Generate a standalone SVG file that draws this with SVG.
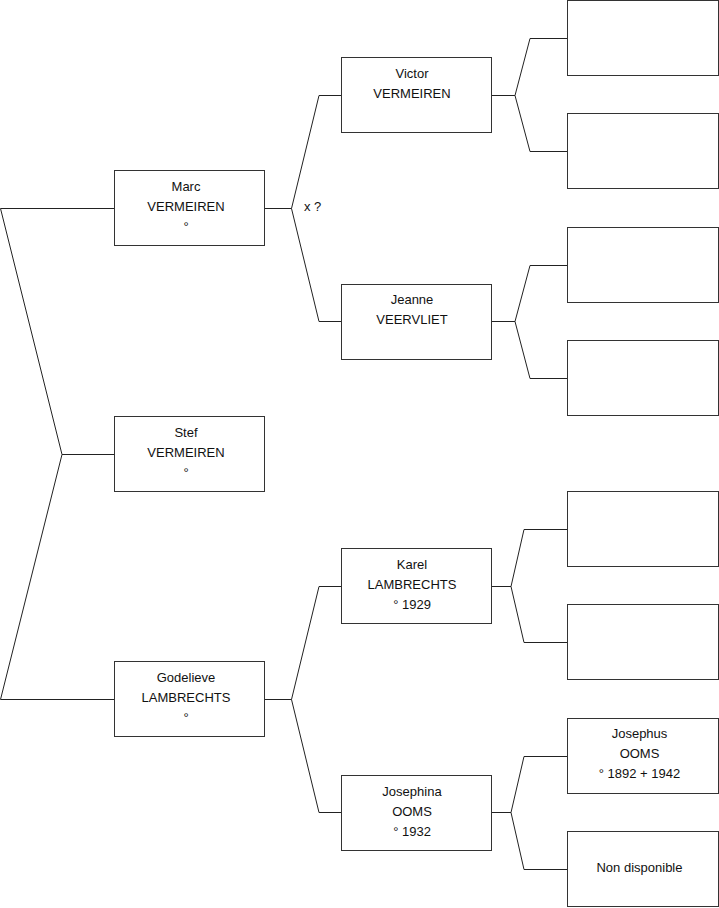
<svg xmlns="http://www.w3.org/2000/svg" width="719" height="908" viewBox="0 0 719 908">
<style>
.box{fill:#fff;stroke:#333;stroke-width:1}
.t{font-family:"Liberation Sans",Arial,sans-serif;font-size:13px;fill:#111;text-anchor:middle}
.c{fill:none;stroke:#222;stroke-width:1}
</style>
<rect width="719" height="908" fill="#fff"/>
<g id="connectors">
<polyline class="c" points="114,208.5 0.5,208.5 62,454.5 0.5,699.5 114,699.5"/>
<line class="c" x1="62" y1="454.5" x2="114" y2="454.5"/>
<polyline class="c" points="265,208.5 291.5,208.5"/>
<polyline class="c" points="341,95.5 319,95.5 291.5,208.5 319,321.5 341,321.5"/>
<polyline class="c" points="265,699.5 291.5,699.5"/>
<polyline class="c" points="341,586.5 319,586.5 291.5,699.5 319,812.5 341,812.5"/>
<polyline class="c" points="491,95.5 515,95.5"/>
<polyline class="c" points="567,38.5 530,38.5 515,95.5 530,151.5 567,151.5"/>
<polyline class="c" points="491,321.5 515,321.5"/>
<polyline class="c" points="567,265.5 530,265.5 515,321.5 530,378.5 567,378.5"/>
<polyline class="c" points="491,586.5 511,586.5"/>
<polyline class="c" points="567,529.5 524,529.5 511,586.5 524,642.5 567,642.5"/>
<polyline class="c" points="491,812.5 511,812.5"/>
<polyline class="c" points="567,756.5 524,756.5 511,812.5 524,869.5 567,869.5"/>
<text class="t" x="304" y="211" style="text-anchor:start">x ?</text>
</g>
<g id="marc"><rect class="box" x="114.5" y="170.5" width="150" height="75"/>
<text class="t" x="186" y="191">Marc</text><text class="t" x="186" y="211">VERMEIREN</text><text class="t" x="186" y="231">°</text></g>
<g id="stef"><rect class="box" x="114.5" y="416.5" width="150" height="75"/>
<text class="t" x="186" y="437">Stef</text><text class="t" x="186" y="457">VERMEIREN</text><text class="t" x="186" y="477">°</text></g>
<g id="godelieve"><rect class="box" x="114.5" y="661.5" width="150" height="75"/>
<text class="t" x="186" y="682">Godelieve</text><text class="t" x="186" y="702">LAMBRECHTS</text><text class="t" x="186" y="722">°</text></g>
<g id="victor"><rect class="box" x="341.5" y="57.5" width="150" height="75"/>
<text class="t" x="412" y="78">Victor</text><text class="t" x="412" y="98">VERMEIREN</text></g>
<g id="jeanne"><rect class="box" x="341.5" y="284.5" width="150" height="75"/>
<text class="t" x="412" y="304">Jeanne</text><text class="t" x="412" y="324">VEERVLIET</text></g>
<g id="karel"><rect class="box" x="341.5" y="548.5" width="150" height="75"/>
<text class="t" x="412" y="569">Karel</text><text class="t" x="412" y="589">LAMBRECHTS</text><text class="t" x="412" y="609">° 1929</text></g>
<g id="josephina"><rect class="box" x="341.5" y="775.5" width="150" height="75"/>
<text class="t" x="412" y="796">Josephina</text><text class="t" x="412" y="816">OOMS</text><text class="t" x="412" y="836">° 1932</text></g>
<g id="p1"><rect class="box" x="567.5" y="0.5" width="151" height="75"/></g>
<g id="p2"><rect class="box" x="567.5" y="113.5" width="151" height="75"/></g>
<g id="p3"><rect class="box" x="567.5" y="227.5" width="151" height="75"/></g>
<g id="p4"><rect class="box" x="567.5" y="340.5" width="151" height="75"/></g>
<g id="p5"><rect class="box" x="567.5" y="491.5" width="151" height="75"/></g>
<g id="p6"><rect class="box" x="567.5" y="604.5" width="151" height="75"/></g>
<g id="josephus"><rect class="box" x="567.5" y="718.5" width="151" height="75"/>
<text class="t" x="639.5" y="738">Josephus</text><text class="t" x="639.5" y="758">OOMS</text><text class="t" x="639.5" y="778">° 1892 + 1942</text></g>
<g id="nondisponible"><rect class="box" x="567.5" y="831.5" width="151" height="75"/>
<text class="t" x="639.5" y="872">Non disponible</text></g>
</svg>
